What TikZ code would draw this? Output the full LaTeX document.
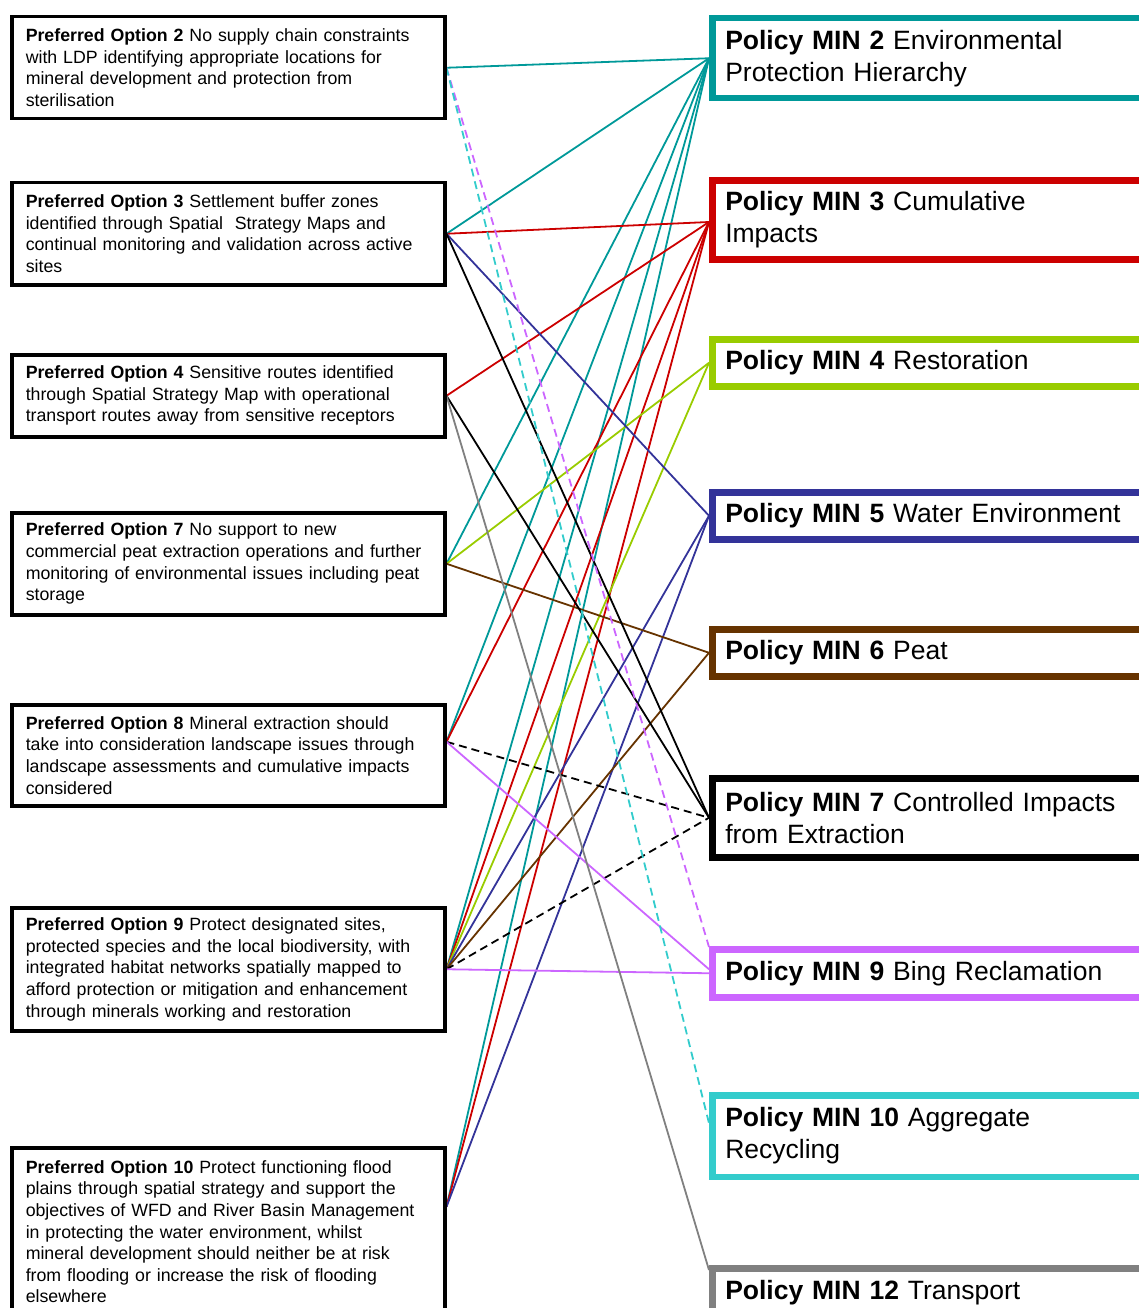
\documentclass[tikz,border=0pt]{standalone}
\usepackage{fontspec}
\setmainfont{Liberation Sans}
\usetikzlibrary{backgrounds}
\definecolor{cteal}{HTML}{009999}
\definecolor{cred}{HTML}{CC0000}
\definecolor{cgreen}{HTML}{99CC00}
\definecolor{cblue}{HTML}{333399}
\definecolor{cbrown}{HTML}{663300}
\definecolor{cviolet}{HTML}{CC66FF}
\definecolor{cturq}{HTML}{33CCCC}
\definecolor{cgrey}{HTML}{808080}
\begin{document}
\hyphenpenalty=10000
\exhyphenpenalty=10000
\begin{tikzpicture}[x=1pt,y=-1pt,
  optbox/.style={draw=black, line width=3.5pt, fill=white, anchor=north west,
    text width=405pt, inner xsep=14pt, inner ysep=0pt, align=left,
    font=\fontsize{17.75}{21.6}\selectfont},
  polbox/.style={line width=6.5pt, fill=white, anchor=north west,
    text width=434pt, inner xsep=13pt, inner ysep=0pt, align=left,
    font=\fontsize{26.5}{32}\selectfont},
  link/.style={line width=1.8pt},
  dlink/.style={line width=1.8pt, dash pattern=on 8pt off 5pt},
]
\useasboundingbox (0,0) rectangle (1139,1308);
\clip (0,0) rectangle (1139,1308);

% left boxes
\node[optbox, minimum height=102pt] (o2) at (10,15) {\textbf{Preferred Option 2} No supply chain constraints\\with LDP identifying appropriate locations for\\mineral development and protection from\\sterilisation};
\node[optbox, minimum height=102pt] (o3) at (10,181) {\textbf{Preferred Option 3} Settlement buffer zones\\identified through Spatial\ \ Strategy Maps and\\continual monitoring and validation across active\\sites};
\node[optbox, minimum height=82pt] (o4) at (10,353) {\textbf{Preferred Option 4} Sensitive routes identified\\through Spatial Strategy Map with operational\\transport routes away from sensitive receptors};
\node[optbox, minimum height=102pt] (o7) at (10,511) {\textbf{Preferred Option 7} No support to new\\commercial peat extraction operations and further\\monitoring of environmental issues including peat\\storage};
\node[optbox, minimum height=101pt] (o8) at (10,703) {\textbf{Preferred Option 8} Mineral extraction should\\take into consideration landscape issues through\\landscape assessments and cumulative impacts\\considered};
\node[optbox, minimum height=123pt] (o9) at (10,906) {\textbf{Preferred Option 9} Protect designated sites,\\protected species and the local biodiversity, with\\integrated habitat networks spatially mapped to\\afford protection or mitigation and enhancement\\through minerals working and restoration};
\node[optbox, minimum height=168pt] (o10) at (10,1146) {\textbf{Preferred Option 10} Protect functioning flood\\plains through spatial strategy and support the\\objectives of WFD and River Basin Management\\in protecting the water environment, whilst\\mineral development should neither be at risk\\from flooding or increase the risk of flooding\\elsewhere};

% right boxes
\node[polbox, draw=cteal, minimum height=80pt] (m2) at (709,15) {\textbf{Policy MIN 2} Environmental\\Protection Hierarchy};
\node[polbox, draw=cred, minimum height=78.5pt] (m3) at (709,177.5) {\textbf{Policy MIN 3} Cumulative\\Impacts};
\node[polbox, draw=cgreen, minimum height=47pt] (m4) at (709,336) {\textbf{Policy MIN 4} Restoration};
\node[polbox, draw=cblue, minimum height=47pt] (m5) at (709,489) {\textbf{Policy MIN 5} Water Environment};
\node[polbox, draw=cbrown, minimum height=47pt] (m6) at (709,626) {\textbf{Policy MIN 6} Peat};
\node[polbox, draw=black, minimum height=79pt] (m7) at (709,775) {\textbf{Policy MIN 7} Controlled Impacts\\from Extraction};
\node[polbox, draw=cviolet, minimum height=48pt] (m9) at (709,946) {\textbf{Policy MIN 9} Bing Reclamation};
\node[polbox, draw=cturq, minimum height=81.5pt] (m10) at (709,1092) {\textbf{Policy MIN 10} Aggregate\\Recycling};
\node[polbox, draw=cgrey, minimum height=48pt] (m12) at (709,1265) {\textbf{Policy MIN 12} Transport};

\begin{pgfonlayer}{background}
% teal to MIN 2
\draw[link, cteal] (o2.east) -- (m2.west);
\draw[link, cteal] (o3.east) -- (m2.west);
\draw[link, cteal] (o7.east) -- (m2.west);
\draw[link, cteal] ([yshift=13.5pt]o8.east) -- (m2.west);
\draw[link, cteal] (o9.east) -- (m2.west);
\draw[link, cteal] ([yshift=25pt]o10.east) -- (m2.west);
% red to MIN 3
\draw[link, cred] (o3.east) -- ([yshift=-2pt]m3.west);
\draw[link, cred] (o4.east) -- ([yshift=-2pt]m3.west);
\draw[link, cred] ([yshift=13.5pt]o8.east) -- ([yshift=-2pt]m3.west);
\draw[link, cred] (o9.east) -- ([yshift=-2pt]m3.west);
\draw[link, cred] ([yshift=25pt]o10.east) -- ([yshift=-2pt]m3.west);
% green to MIN 4
\draw[link, cgreen] (o7.east) -- (m4.west);
\draw[link, cgreen] (o9.east) -- (m4.west);
% blue to MIN 5
\draw[link, cblue] (o3.east) -- (m5.west);
\draw[link, cblue] (o9.east) -- (m5.west);
\draw[link, cblue] ([yshift=25pt]o10.east) -- (m5.west);
% brown to MIN 6
\draw[link, cbrown] (o7.east) -- (m6.west);
\draw[link, cbrown] (o9.east) -- (m6.west);
% black to MIN 7
\draw[link, black] (o3.east) -- (m7.west);
\draw[link, black] (o4.east) -- (m7.west);
\draw[dlink, black] ([yshift=13.5pt]o8.east) -- (m7.west);
\draw[dlink, black] (o9.east) -- (m7.west);
% violet to MIN 9
\draw[link, cviolet] ([yshift=13.5pt]o8.east) -- ([yshift=4pt]m9.west);
\draw[link, cviolet] (o9.east) -- (m9.west);
\draw[dlink, cviolet] (o2.east) -- ([yshift=-1pt]m9.north west);
% turquoise to MIN 10
\draw[dlink, cturq] (o2.east) -- ([yshift=12.75pt]m10.west);
% grey to MIN 12
\draw[link, cgrey] (o4.east) -- ([yshift=-5pt]m12.north west);
\end{pgfonlayer}
\end{tikzpicture}
\end{document}
